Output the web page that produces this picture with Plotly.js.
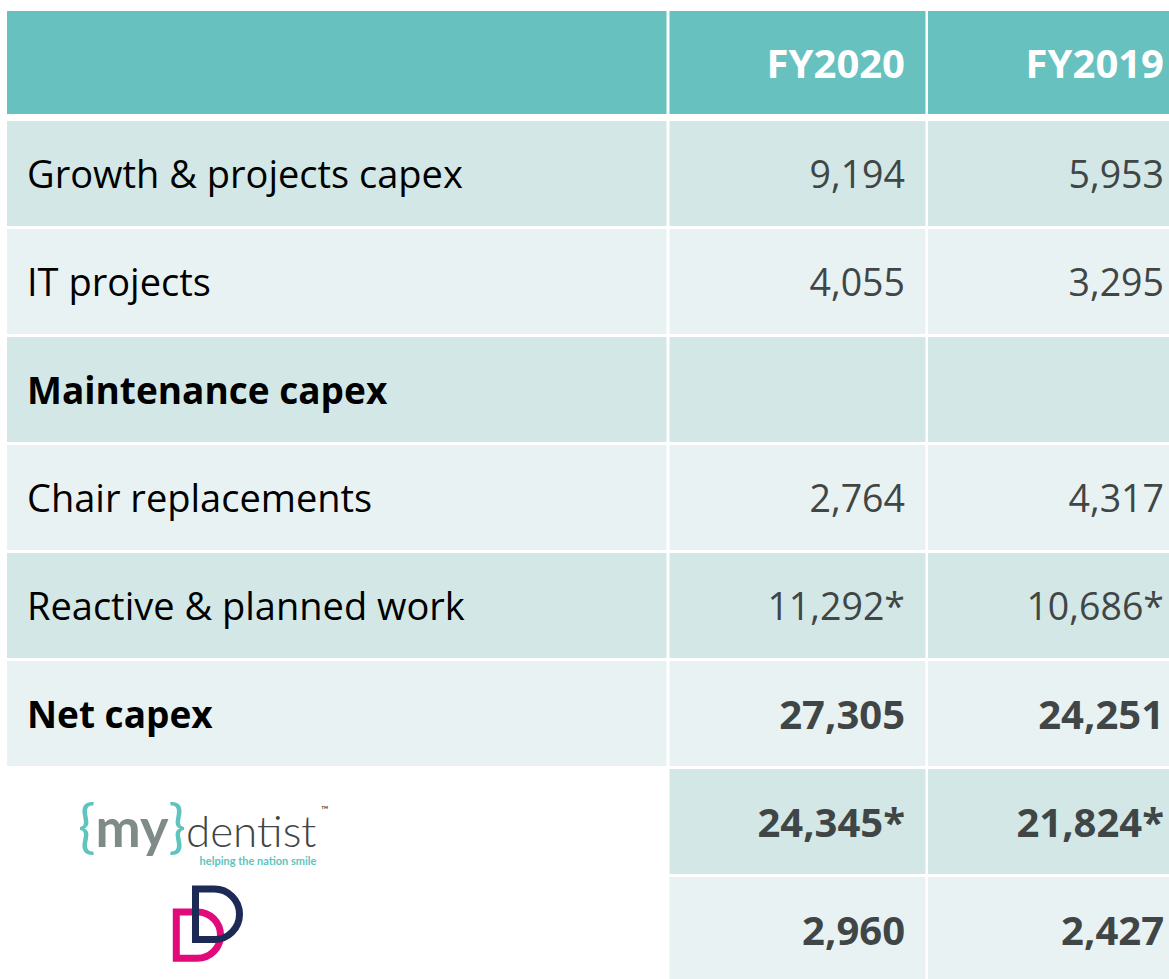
<!DOCTYPE html>
<html><head><meta charset="utf-8">
<script src="https://cdn.plot.ly/plotly-3.0.1.min.js"></script>
<style>html,body{margin:0;padding:0;background:#fff;overflow:hidden}</style>
</head><body><div id="chart" style="width:1169px;height:979px"></div>
<script>
// ---- data ----
const columns = ['FY2020', 'FY2019'];
const rowLabels = ['Growth & projects capex', 'IT projects', 'Maintenance capex', 'Chair replacements', 'Reactive & planned work', 'Net capex', '{my}dentist', 'Dental Directory'];
const fy2020 = [9194, 4055, null, 2764, 11292, 27305, 24345, 2960];
const fy2019 = [5953, 3295, null, 4317, 10686, 24251, 21824, 2427];
const footnoteFlag = [false, false, false, false, true, false, true, false];
const logoTagline = 'helping the nation smile';

// ---- geometry & style (px) ----
const W = 1169, H = 979;
const colLeft = [7, 669.5, 928];
const colRight = [666.5, 925.5, W + 20];
const valueRight = [905, 1164];
const headerTop = 11, headerBottom = 114;
const bodyTop = 121, rowPitch = 108, rowGap = 3;
const labelX = 27;
const textDy = 5;
const logoRows = [6, 7];
const labelBold = [false, false, true, false, false, true, false, false];
const valueBold = [false, false, false, false, false, true, true, true];
const COL = {header: '#67c1bf', dark: '#d3e8e6', light: '#e9f2f3', label: '#000000', value: '#404646', headText: '#ffffff'};
const FONT = '"Open Sans", "Noto Sans", sans-serif';
const FS = {label: 38, labelBold: 37, value: 37.5, valueBold: 40, header: 40};

const rowTop = i => bodyTop + i * rowPitch;
const rowBottom = i => (i === rowLabels.length - 1 ? H + 10 : rowTop(i) + rowPitch - rowGap);
const rowMid = i => (rowTop(i) + rowTop(i) + rowPitch - rowGap) / 2;
const fmt = (v, i) => v == null ? '' : v.toLocaleString('en-US') + (footnoteFlag[i] ? '*' : '');

// ---- cell backgrounds ----
const shapes = [];
for (let c = 0; c < 3; c++) {
  shapes.push({type: 'rect', xref: 'x', yref: 'y', layer: 'below', x0: colLeft[c], x1: colRight[c], y0: headerTop, y1: headerBottom,
    fillcolor: COL.header, line: {width: 0}});
}
rowLabels.forEach((lab, r) => {
  for (let c = 0; c < 3; c++) {
    if (c === 0 && logoRows.includes(r)) continue;
    shapes.push({type: 'rect', xref: 'x', yref: 'y', layer: 'below', x0: colLeft[c], x1: colRight[c], y0: rowTop(r), y1: rowBottom(r),
      fillcolor: r % 2 === 0 ? COL.dark : COL.light, line: {width: 0}});
  }
});

// ---- Dental Directory "DD" mark ----
function dPath(x0, yTop, yBot, xRight) {
  const r = (yBot - yTop) / 2, cx = xRight - r, cy = yTop + r, k = 0.5523 * r;
  return `M${x0},${yBot} L${x0},${yTop} L${cx},${yTop} C${cx + k},${yTop} ${xRight},${cy - k} ${xRight},${cy} C${xRight},${cy + k} ${cx + k},${yBot} ${cx},${yBot} Z`;
}
shapes.push({type: 'path', xref: 'x', yref: 'y', layer: 'above', path: dPath(176.3, 912, 958.3, 220.5), line: {color: '#e2097b', width: 7}});
shapes.push({type: 'path', xref: 'x', yref: 'y', layer: 'above', path: dPath(195.5, 889, 939.5, 239.5), line: {color: '#1d2a55', width: 7}});

// ---- text traces ----
const textRows = rowLabels.map((_, i) => i).filter(i => !logoRows.includes(i));
const traces = [];
traces.push({type: 'scatter', mode: 'text', hoverinfo: 'skip',
  x: textRows.map(() => labelX), y: textRows.map(i => rowMid(i) + textDy),
  text: textRows.map(i => labelBold[i] ? '<b>' + rowLabels[i] + '</b>' : rowLabels[i]),
  textposition: 'middle right',
  textfont: {family: FONT, size: textRows.map(i => labelBold[i] ? FS.labelBold : FS.label), color: COL.label}});
[fy2020, fy2019].forEach((series, c) => {
  traces.push({type: 'scatter', mode: 'text', hoverinfo: 'skip',
    x: series.map(() => valueRight[c]), y: series.map((_, i) => rowMid(i) + textDy),
    text: series.map((v, i) => valueBold[i] ? '<b>' + fmt(v, i) + '</b>' : fmt(v, i)),
    textposition: 'middle left',
    textfont: {family: FONT, size: series.map((_, i) => valueBold[i] ? FS.valueBold : FS.value), color: COL.value}});
});
traces.push({type: 'scatter', mode: 'text', hoverinfo: 'skip',
  x: valueRight, y: columns.map(() => (headerTop + headerBottom) / 2 + textDy),
  text: columns.map(t => '<b>' + t + '</b>'),
  textposition: 'middle left', textfont: {family: FONT, size: FS.header, color: COL.headText}});

// ---- {my}dentist wordmark ----
const teal = '#5ec4bd';
const annotations = [
  {xref: 'x', yref: 'y', x: 319, y: 869, xanchor: 'right', yanchor: 'bottom', align: 'right', showarrow: false,
   font: {size: 14, family: 'Lato, sans-serif', color: teal},
   text: `<span style="font-size:58px;color:${teal}">{</span>` +
         `<span style="font-size:54px;font-weight:bold;color:#7f8b89">my</span>` +
         `<span style="font-size:58px;color:${teal}">}</span>` +
         `<span style="font-size:44px;font-weight:300;color:#3f4646">dentist</span>` +
         `<br><span style="font-size:11px;font-weight:bold">${logoTagline}</span>`},
  {xref: 'x', yref: 'y', x: 319, y: 809, xanchor: 'left', yanchor: 'middle', showarrow: false,
   font: {size: 10, family: 'Lato, sans-serif', color: '#3f4646'}, text: '™'}
];

Plotly.newPlot('chart', traces, {
  width: W, height: H, margin: {l: 0, r: 0, t: 0, b: 0},
  paper_bgcolor: '#ffffff', plot_bgcolor: '#ffffff', showlegend: false,
  xaxis: {range: [0, W], visible: false, fixedrange: true},
  yaxis: {range: [H, 0], visible: false, fixedrange: true},
  shapes: shapes, annotations: annotations
}, {displayModeBar: false, staticPlot: true});
</script></body></html>
